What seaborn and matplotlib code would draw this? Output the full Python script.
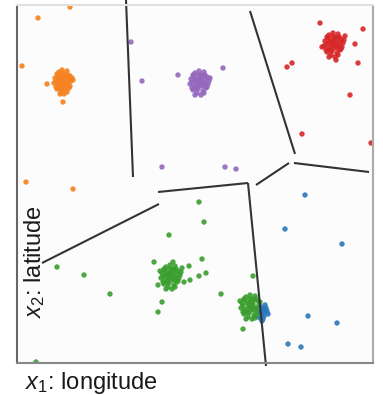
import numpy as np
import pandas as pd
import matplotlib
matplotlib.use("Agg")
import matplotlib.pyplot as plt
import seaborn as sns

# station positions, x = longitude units east, y = latitude units north
orange_x = [46, 43, 49, 41, 51, 45, 39, 53, 47, 42, 50, 55, 44, 40, 48, 52, 37, 46, 43, 49,
            41, 54, 45, 38, 51, 47, 42, 56, 44, 48, 40, 53, 46, 50, 43, 39, 49, 45, 52, 41,
            30, 46, 53, 21, 5, 9, 56]
orange_y = [281, 285, 284, 278, 279, 275, 282, 287, 289, 291, 292, 285, 271, 274, 273, 275, 280, 285, 279, 277,
            287, 282, 293, 285, 288, 269, 275, 283, 283, 280, 289, 277, 277, 271, 269, 276, 287, 288, 283, 283,
            279, 261, 356, 345, 297, 181, 174]

purple_x = [182, 179, 185, 177, 188, 181, 175, 190, 184, 178, 187, 192, 180, 176, 186, 189, 173, 183, 180, 186,
            177, 191, 182, 174, 188, 184, 179, 193, 181, 185, 176, 190, 183, 187, 178, 175, 186, 182, 189, 178,
            114, 125, 161, 145, 206, 208, 219]
purple_y = [280, 284, 283, 277, 279, 274, 281, 286, 288, 290, 291, 282, 270, 273, 272, 275, 279, 285, 279, 277,
            287, 279, 292, 284, 288, 268, 275, 285, 283, 280, 288, 276, 277, 270, 268, 275, 287, 288, 283, 282,
            321, 282, 288, 196, 295, 196, 194]

red_x = [316, 313, 319, 311, 322, 315, 309, 324, 318, 312, 321, 326, 314, 310, 320, 323, 307, 317, 314, 320,
         311, 325, 316, 308, 322, 318, 313, 327, 315, 319, 310, 324, 317, 321, 312, 309, 320, 316, 323, 312,
         305, 328, 319,
         303, 346, 338, 341, 275, 270, 333, 285, 354]
red_y = [318, 322, 321, 315, 317, 312, 319, 324, 326, 328, 329, 320, 308, 311, 310, 313, 317, 323, 317, 315,
         325, 316, 330, 322, 326, 306, 313, 323, 321, 318, 326, 314, 315, 308, 306, 313, 325, 326, 321, 320,
         316, 327, 303,
         340, 334, 319, 300, 300, 296, 268, 229, 220]

green_x = [153, 150, 156, 148, 159, 152, 146, 161, 155, 149, 158, 163, 151, 147, 157, 160, 144, 154, 151, 157,
           148, 162, 153, 145, 159, 155, 150, 164, 152, 156, 147, 161, 154, 158, 149, 146, 157, 153, 160, 149,
           143, 165, 156, 141,
           233, 230, 236, 228, 239, 232, 226, 241, 235, 229, 238, 242, 231, 227, 237, 240, 224, 234, 231, 237,
           228, 241, 233, 225, 239, 235, 230, 243, 232, 236, 227, 240, 234, 238, 229, 226, 237, 233, 223, 242,
           152, 40, 67, 93, 145, 141, 137, 19, 182, 187, 185, 172, 189, 182, 173, 167, 204, 236, 226]
green_y = [86, 90, 89, 83, 85, 80, 87, 92, 94, 96, 97, 88, 76, 79, 78, 81, 85, 91, 85, 83,
           93, 85, 98, 90, 94, 74, 81, 91, 89, 86, 94, 82, 83, 76, 74, 81, 93, 94, 89, 88,
           92, 95, 101, 78,
           56, 60, 59, 53, 55, 50, 57, 62, 64, 66, 67, 58, 46, 49, 48, 51, 55, 61, 55, 53,
           63, 54, 68, 60, 64, 44, 51, 61, 59, 56, 64, 47, 53, 45, 44, 51, 63, 64, 62, 50,
           128, 96, 88, 69, 61, 51, 101, 1, 161, 141, 104, 97, 90, 87, 83, 81, 69, 87, 34]

blue_x = [244, 246, 248, 245, 250, 247, 243, 249, 246, 251, 244, 248, 245, 247,
          288, 268, 325, 291, 320, 271, 284]
blue_y = [56, 53, 51, 49, 52, 47, 45, 55, 44, 49, 51, 58, 42, 54,
          168, 134, 119, 47, 40, 19, 16]

# cell boundaries (segment endpoints)
edges = [
    ([109, 116], [363, 186]),
    ([141, 231], [171, 180]),
    ([231, 249], [180, -3]),
    ([233, 278], [352, 209]),
    ([239, 272], [178, 200]),
    ([277, 352], [200, 191]),
    ([25, 142], [100, 159]),
]

groups = {
    "orange": (orange_x, orange_y),
    "purple": (purple_x, purple_y),
    "red": (red_x, red_y),
    "green": (green_x, green_y),
    "blue": (blue_x, blue_y),
}
frames = []
for name, (xs, ys) in groups.items():
    frames.append(pd.DataFrame({"lon": xs, "lat": ys, "cluster": name}))
df = pd.concat(frames, ignore_index=True)

palette = {"orange": "#f5811f", "purple": "#9467bd", "red": "#d62728",
           "green": "#3a9e2e", "blue": "#2a78bd"}

sns.set_theme(style="white")
plt.rcParams["font.family"] = ["Liberation Sans", "DejaVu Sans"]
plt.rcParams["mathtext.fontset"] = "custom"
plt.rcParams["mathtext.it"] = "Liberation Sans:italic"
plt.rcParams["mathtext.rm"] = "Liberation Sans"

fig = plt.figure(figsize=(3.83, 3.95), dpi=100)
ax = fig.add_axes([17 / 383, 32 / 395, 356 / 383, 358 / 395])
ax.set_facecolor("#fcfcfc")

sns.scatterplot(data=df, x="lon", y="lat", hue="cluster", palette=palette,
                s=15, alpha=0.9, linewidth=0, legend=False, ax=ax)

for xs, ys in edges:
    ax.plot(xs, ys, color="#333333", lw=1.5, clip_on=False, solid_capstyle="butt")

ax.set_xlim(0, 356)
ax.set_ylim(0, 358)
ax.set_xticks([])
ax.set_yticks([])
ax.set_xlabel("")
ax.set_ylabel("")

for side, col in [("left", "#666666"), ("bottom", "#888888"),
                  ("top", "#e0e0e0"), ("right", "#aaaaaa")]:
    ax.spines[side].set_color(col)
    ax.spines[side].set_linewidth(1.5)

fig.text(25 / 383, 1 - 389 / 395, "$x_1$: longitude", fontsize=17,
         color="#1a1a1a", ha="left", va="baseline")
fig.text(35 / 383, 1 - 262 / 395, "$x_2$: latitude", fontsize=17,
         color="#1a1a1a", ha="center", va="center", rotation=90)

fig.savefig("out.png", dpi=100)
plt.close(fig)
